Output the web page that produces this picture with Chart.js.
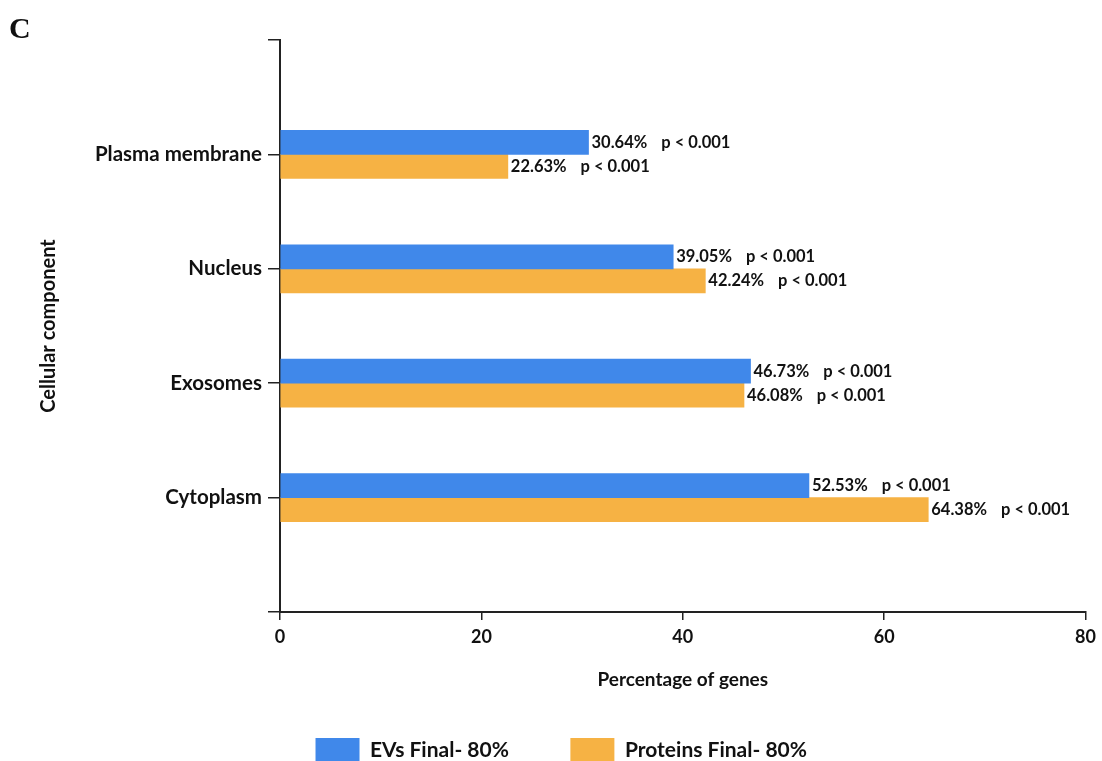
<!DOCTYPE html>
<html>
<head>
<meta charset="utf-8">
<script src="https://cdn.jsdelivr.net/npm/chart.js@4/dist/chart.umd.min.js"></script>
<style>
  html, body { margin: 0; padding: 0; background: #fff; }
  #wrap { position: relative; width: 1102px; height: 761px; }
  #panel {
    position: absolute; left: 9px; top: 13px;
    font: bold 30px "Liberation Serif", "Times New Roman", serif;
    line-height: 30px; color: #111;
  }
</style>
</head>
<body>
<div id="wrap">
  <div id="panel">C</div>
  <canvas id="myChart" width="1102" height="761"></canvas>
</div>
<script>
// values
var categories = ["Plasma membrane", "Nucleus", "Exosomes", "Cytoplasm"];
var evsValues = [30.64, 39.05, 46.73, 52.53];
var proteinValues = [22.63, 42.24, 46.08, 64.38];
var evsPLabels = ["p < 0.001", "p < 0.001", "p < 0.001", "p < 0.001"];
var proteinPLabels = ["p < 0.001", "p < 0.001", "p < 0.001", "p < 0.001"];
var xTicks = [0, 20, 40, 60, 80];

var FONT = "Lato, 'Open Sans', sans-serif";
var INK = "#111";
var LEFT_PAD = 34.5; // shifts the legend; y axis width is reduced by the same amount

// empty slots at both ends so the axis runs past the first/last category
var labels = [""].concat(categories).concat([""]);
var evsData = [null].concat(evsValues).concat([null]);
var proteinData = [null].concat(proteinValues).concat([null]);
var pLabels = [[null].concat(evsPLabels).concat([null]), [null].concat(proteinPLabels).concat([null])];

// "30.64%   p < 0.001" next to each bar
var barLabels = {
  id: "barLabels",
  afterDatasetsDraw: function(chart) {
    var ctx = chart.ctx;
    ctx.save();
    ctx.font = "bold 16.5px " + FONT;
    ctx.fillStyle = INK;
    ctx.textBaseline = "middle";
    ctx.textAlign = "left";
    chart.data.datasets.forEach(function(ds, i) {
      var meta = chart.getDatasetMeta(i);
      meta.data.forEach(function(bar, j) {
        var v = ds.data[j];
        if (v === null) return;
        var txt = v.toFixed(2) + "%";
        var x = bar.x + 3;
        ctx.fillText(txt, x, bar.y);
        ctx.fillText(pLabels[i][j], x + ctx.measureText(txt).width + 14, bar.y);
      });
    });
    ctx.restore();
  }
};

var ctx = document.getElementById("myChart").getContext("2d");
var myChart = new Chart(ctx, {
  type: "bar",
  data: {
    labels: labels,
    datasets: [
      {
        label: "EVs Final- 80%",
        data: evsData,
        backgroundColor: "#4088EA",
        borderWidth: 0,
        barThickness: 24
      },
      {
        label: "Proteins Final- 80%",
        data: proteinData,
        backgroundColor: "#F6B244",
        borderWidth: 0,
        barThickness: 24
      }
    ]
  },
  options: {
    indexAxis: "y",
    responsive: false,
    animation: false,
    layout: { padding: { top: 40, right: 14, left: LEFT_PAD, bottom: -11 } },
    plugins: {
      tooltip: { enabled: false },
      legend: {
        position: "bottom",
        labels: {
          boxWidth: 44,
          boxHeight: 24,
          padding: 61.5,
          color: INK,
          font: { family: FONT, size: 21, weight: "bold" }
        }
      }
    },
    scales: {
      x: {
        min: 0,
        max: 80,
        afterBuildTicks: function(scale) {
          scale.ticks = xTicks.map(function(v) { return { value: v }; });
        },
        afterFit: function(scale) { scale.height = 64.5; },
        border: { display: true, color: "#222", width: 2 },
        grid: { drawOnChartArea: false, drawTicks: true, tickLength: 8, color: "#222", lineWidth: 1.5 },
        ticks: { color: INK, padding: 6, font: { family: FONT, size: 18, weight: "bold" } },
        title: {
          display: true,
          text: "Percentage of genes",
          color: INK,
          padding: { top: 0, bottom: -15 },
          font: { family: FONT, size: 19, weight: "bold" }
        }
      },
      y: {
        offset: false,
        afterFit: function(scale) { scale.width = 280 - LEFT_PAD; },
        border: { display: true, color: "#222", width: 2 },
        grid: { offset: false, drawOnChartArea: false, drawTicks: true, tickLength: 12, color: "#222", lineWidth: 1.5 },
        ticks: { autoSkip: false, color: INK, padding: 6, font: { family: FONT, size: 20.5, weight: "bold" } },
        title: {
          display: true,
          text: "Cellular component",
          color: INK,
          padding: { top: 2.5, bottom: 0 },
          font: { family: FONT, size: 20, weight: "bold" }
        }
      }
    }
  },
  plugins: [barLabels]
});
</script>
</body>
</html>
